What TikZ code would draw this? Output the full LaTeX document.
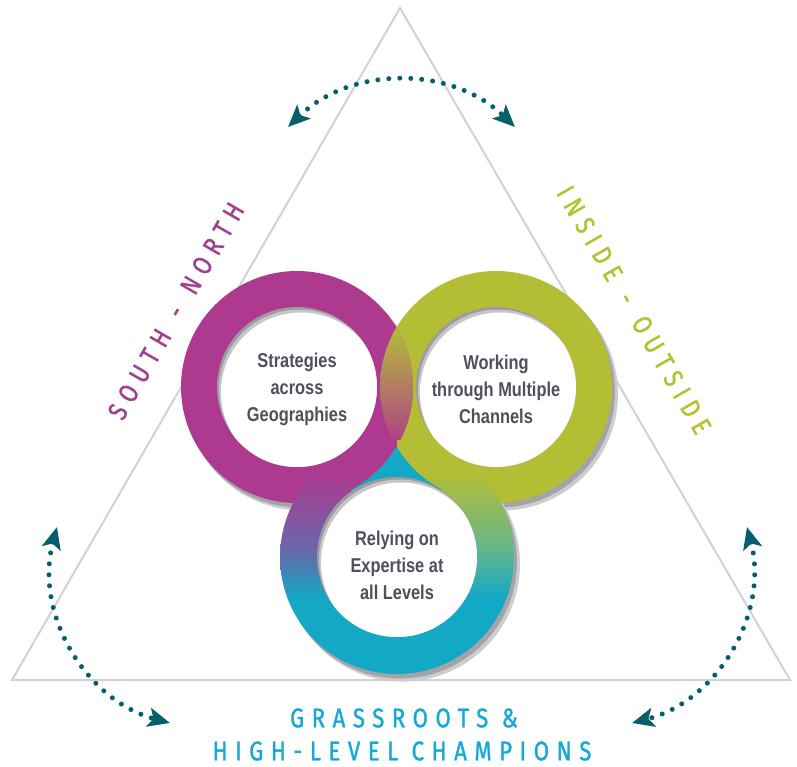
\documentclass[tikz,border=0pt]{standalone}
\usepackage{fontspec}
\usetikzlibrary{arrows.meta,calc}
\newfontfamily\ringfont[FakeStretch=0.82]{Liberation Sans}
\newfontfamily\labfont[FakeStretch=0.82,LetterSpace=28,FakeBold=1.2]{Fira Sans}
\definecolor{magC}{HTML}{AD3A8E}
\definecolor{greenC}{HTML}{B4BE34}
\definecolor{cyanC}{HTML}{12A8C6}
\definecolor{pbl}{HTML}{6B66A9}
\definecolor{tgr}{HTML}{66B58A}
\definecolor{lensMid}{HTML}{AE7E5E}
\definecolor{txtgray}{HTML}{4E505B}
\definecolor{magL}{HTML}{A2408F}
\definecolor{greenL}{HTML}{B3C22F}
\definecolor{cyanL}{HTML}{17A8D8}
\definecolor{tealA}{HTML}{075F6C}
\definecolor{trigray}{HTML}{D2D2D6}
\definecolor{shadowlt}{HTML}{CDCDD0}
\definecolor{shadowdk}{HTML}{A4A4A8}
\definecolor{holedk}{HTML}{9C9CA0}
\definecolor{holelt}{HTML}{C6C6CA}
\pgfdeclareverticalshading{cyanleft}{100bp}{color(0bp)=(cyanC); color(41bp)=(cyanC); color(52bp)=(pbl); color(68bp)=(magC); color(100bp)=(magC)}
\pgfdeclareverticalshading{cyanright}{100bp}{color(0bp)=(cyanC); color(41bp)=(cyanC); color(52bp)=(tgr); color(68bp)=(greenC); color(100bp)=(greenC)}
\tikzset{
  triline/.style={draw=trigray, line width=2pt, line join=miter},
  ringtxt/.style={font=\ringfont\bfseries\fontsize{20}{27}\selectfont, align=center, text=txtgray, inner sep=0pt},
  sidelab/.style={font=\labfont\fontsize{27}{32}\selectfont, inner sep=0pt},
  dotarrow/.style={draw=tealA, line width=5pt, line cap=round, dash pattern=on 0pt off 11pt,
    {Stealth[length=22pt,width=19pt,inset=5pt,line cap=butt]}-{Stealth[length=22pt,width=19pt,inset=5pt,line cap=butt]}}
}
\begin{document}
\begin{tikzpicture}[x=1pt,y=-1pt]
\useasboundingbox (0,0) rectangle (797,766);
\fill[white] (0,0) rectangle (797,766);
% triangle
\coordinate (tA) at (400,8);
\coordinate (tL) at (12,680);
\coordinate (tR) at (790,680);
\draw[triline] (tA) -- (tL) -- (tR) -- cycle;
% centres
\coordinate (cM) at (297,387);
\coordinate (cG) at (496,387);
\coordinate (cC) at (397,557);
% outer shadows
\foreach \c/\r in {cM/116,cG/116,cC/117}{
  \fill[shadowlt] ($(\c)+(5.5,7)$) circle (\r+0.5);
  \fill[shadowdk] ($(\c)+(3,4.5)$) circle (\r);
}
% rings
\fill[greenC] (cG) circle (116);
\fill[magC] (cM) circle (116);
\begin{scope}
  \clip (cM) circle (116);
  \clip (cG) circle (116);
  \shade[top color=greenC, middle color=lensMid, bottom color=magC] (376,326) rectangle (418,449);
\end{scope}
\begin{scope}
  \clip (cC) circle (117);
  \shade[shading=cyanleft] (278,440) rectangle (397.6,674);
  \shade[shading=cyanright] (397,440) rectangle (516,674);
  \fill[cyanC] ($(cM)+(30.9:116)$) arc[start angle=30.9,end angle=62,radius=116]
     -- (397,530) -- ($(cG)+(118:116)$) arc[start angle=118,end angle=149.1,radius=116] -- cycle;
\end{scope}
% holes with inner shadow
\foreach \c in {cM,cG,cC}{
  \begin{scope}
    \clip (\c) circle (80);
    \fill[holedk] (\c) circle (80);
    \fill[holelt] ($(\c)+(2,2.5)$) circle (80);
    \fill[white] ($(\c)+(4,5.5)$) circle (80);
  \end{scope}
}
% ring texts
\node[ringtxt] (tM) at (297,389) {Strategies\\across\\Geographies};
\node[ringtxt] (tG) at (496,389) {Working\\through Multiple\\Channels};
\node[ringtxt] (tC) at (397,565) {Relying on\\Expertise at\\all Levels};
% side labels
\node[sidelab, text=magL, rotate=60] (lSN) at (176,311) {SOUTH\hspace{5pt} -\hspace{5pt} NORTH};
\node[sidelab, text=greenL, rotate=-60] (lIO) at (634,310) {INSIDE\hspace{5pt} -\hspace{5pt} OUTSIDE};
\node[sidelab, text=cyanL] (lG1) at (404,718) {GRASSROOTS \&};
\node[sidelab, text=cyanL] (lG2) at (402,751) {HIGH-LEVEL CHAMPIONS};
% dotted arrows
\coordinate (aTL) at (288,127);
\coordinate (aTR) at (515,127);
\coordinate (aLT) at (57,527);
\coordinate (aLB) at (170,723);
\coordinate (aRT) at (747,527);
\coordinate (aRB) at (632,723);
\draw[dotarrow] (aTL) to[bend left=44] (aTR);
\draw[dotarrow] (aLT) to[bend right=45] (aLB);
\draw[dotarrow] (aRT) to[bend left=45] (aRB);
\end{tikzpicture}
\end{document}
